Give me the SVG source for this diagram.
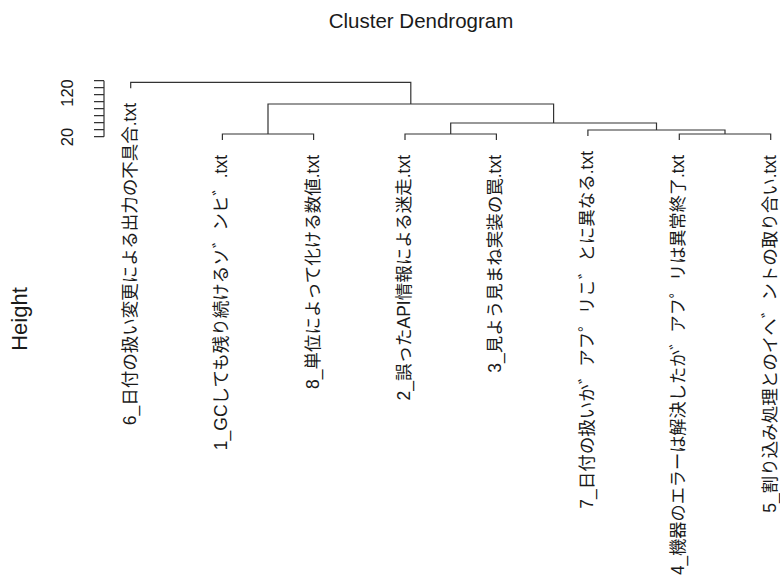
<svg xmlns="http://www.w3.org/2000/svg" width="780" height="581" viewBox="0 0 780 581">
<style>
.t{font-family:"Liberation Sans","Noto Sans CJK JP",sans-serif;fill:#1a1a1a}
.lbl{font-size:17.5px;text-anchor:end}
.ax{font-size:16.5px;text-anchor:middle}
.ln{fill:none;stroke:#333;stroke-width:1.2}
</style>
<rect width="780" height="581" fill="#fff"/>
<text class="t" x="421" y="28" font-size="20.5" text-anchor="middle">Cluster Dendrogram</text>
<text class="t" transform="translate(27,319) rotate(-90)" font-size="22" text-anchor="middle">Height</text>
<g id="axis">
<path class="ln" d="M104,80.7V136.7M94,80.7H104M94,87.7H104M94,94.7H104M94,101.7H104M94,108.7H104M94,115.7H104M94,122.7H104M94,129.7H104M94,136.7H104"/>
<text class="t ax" transform="translate(73,93) rotate(-90)">120</text>
<text class="t ax" transform="translate(73,137) rotate(-90)">20</text>
</g>
<g id="connectors">
<path class="ln" d="M222.4,140V134H313.6V140"/>
<path class="ln" d="M405,140V134H496.4V140"/>
<path class="ln" d="M679.3,140V134H770.7V140"/>
<path class="ln" d="M587.9,136V130H725V134"/>
<path class="ln" d="M450.7,134V123H656.5V130"/>
<path class="ln" d="M268,134V104H553.6V123"/>
<path class="ln" d="M130.7,88.3V82.3H410.8V104"/>
</g>
<g id="leaf6"><text class="t lbl" transform="translate(135.5,103) rotate(-90)">6_日付の扱い変更による出力の不具合.txt</text></g>
<g id="leaf1"><text class="t lbl" transform="translate(227,155) rotate(-90)">1_GCしても残り続けるソ゛ンヒ゛.txt</text></g>
<g id="leaf8"><text class="t lbl" transform="translate(318.5,155) rotate(-90)">8_単位によって化ける数値.txt</text></g>
<g id="leaf2"><text class="t lbl" transform="translate(410,155) rotate(-90)">2_誤ったAPI情報による迷走.txt</text></g>
<g id="leaf3"><text class="t lbl" transform="translate(501.4,155) rotate(-90)">3_見よう見まね実装の罠.txt</text></g>
<g id="leaf7"><text class="t lbl" transform="translate(592.9,151) rotate(-90)">7_日付の扱いか゛アフ゜リこ゛とに異なる.txt</text></g>
<g id="leaf4"><text class="t lbl" transform="translate(684.3,155) rotate(-90)" textLength="420" lengthAdjust="spacingAndGlyphs">4_機器のエラーは解決したか゛アフ゜リは異常終了.txt</text></g>
<g id="leaf5"><text class="t lbl" transform="translate(775.7,155) rotate(-90)">5_割り込み処理とのイヘ゛ントの取り合い.txt</text></g>
</svg>
